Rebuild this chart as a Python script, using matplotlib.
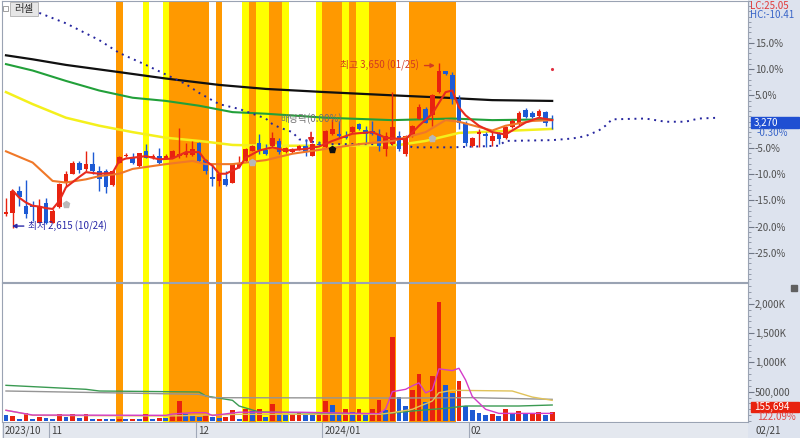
import matplotlib
matplotlib.use('Agg')
import matplotlib.pyplot as plt
from matplotlib.patches import Rectangle
import numpy as np

plt.rcParams['font.family'] = ['Noto Sans CJK KR', 'DejaVu Sans']

# ---- daily candles, 2023/10/23 .. 2024/02/21 ----
opens = [2705, 2710, 2850, 2755, 2760, 2650, 2775, 2650, 2745, 2900,
         2955, 3020, 2985, 3015, 2970, 2975, 2885, 3025, 3065, 3055,
         3005, 3095, 3055, 3065, 3050, 3055, 3065, 3075, 3075, 3150,
         3040, 2935, 2910, 2925, 2900, 3000, 3035, 3100, 3150, 3105,
         3130, 3160, 3090, 3090, 3110, 3130, 3065, 3140, 3125, 3205,
         3205, 3190, 3215, 3265, 3230, 3225, 3205, 3110, 3140, 3190,
         3080, 3190, 3295, 3360, 3320, 3465, 3595, 3570, 3420, 3275,
         3130, 3205, 3205, 3160, 3205, 3180, 3245, 3265, 3355, 3335,
         3315, 3340, 3275]
closes = [2715, 2850, 2810, 2705, 2750, 2755, 2650, 2720, 2890, 2955,
          3025, 2980, 3015, 2975, 2920, 2870, 2975, 3060, 3075, 3025,
          3085, 3055, 3065, 3025, 3065, 3100, 3080, 3090, 3110, 3035,
          2975, 2925, 2955, 2885, 3015, 3025, 3110, 3130, 3105, 3080,
          3180, 3090, 3115, 3110, 3130, 3090, 3140, 3135, 3225, 3235,
          3190, 3180, 3245, 3235, 3205, 3205, 3130, 3190, 3245, 3110,
          3190, 3255, 3370, 3275, 3445, 3600, 3580, 3425, 3275, 3150,
          3180, 3215, 3190, 3190, 3175, 3250, 3285, 3335, 3310, 3310,
          3350, 3275, 3270]
highs = [2805, 2850, 2880, 2915, 2785, 2800, 2805, 2735, 2900, 2975,
         3035, 3035, 3100, 3090, 3005, 2985, 2980, 3065, 3085, 3085,
         3085, 3140, 3080, 3115, 3080, 3105, 3240, 3150, 3160, 3155,
         3050, 3015, 2960, 2975, 3025, 3065, 3115, 3135, 3205, 3140,
         3215, 3180, 3125, 3115, 3135, 3170, 3150, 3160, 3230, 3300,
         3285, 3225, 3255, 3275, 3255, 3285, 3235, 3215, 3465, 3225,
         3200, 3260, 3390, 3370, 3455, 3650, 3600, 3590, 3445, 3285,
         3185, 3235, 3215, 3215, 3215, 3255, 3295, 3345, 3365, 3345,
         3360, 3350, 3320]
lows = [2690, 2615, 2755, 2680, 2660, 2650, 2640, 2650, 2740, 2880,
        2955, 2960, 2975, 2955, 2850, 2835, 2880, 3025, 3060, 3015,
        3000, 3055, 3050, 3015, 3050, 3055, 3055, 3060, 3065, 3030,
        2955, 2880, 2880, 2880, 2900, 2990, 3030, 3100, 3080, 3075,
        3125, 3080, 3085, 3085, 3105, 3065, 3065, 3130, 3115, 3200,
        3180, 3175, 3210, 3230, 3150, 3200, 3100, 3065, 3135, 3100,
        3065, 3185, 3295, 3270, 3255, 3460, 3575, 3390, 3235, 3130,
        3120, 3120, 3120, 3130, 3140, 3175, 3240, 3260, 3305, 3305,
        3310, 3255, 3235]
# volume in thousands, and its bar colour (1 red, 0 blue)
volumes_k = [97, 85, 40, 142, 40, 68, 57, 40, 114, 68,
             114, 57, 125, 28, 40, 40, 34, 40, 40, 40,
             40, 114, 34, 57, 45, 103, 341, 125, 97, 68,
             97, 68, 45, 68, 188, 40, 199, 171, 199, 68,
             296, 125, 114, 125, 159, 114, 114, 102, 341, 273,
             125, 210, 159, 199, 142, 199, 358, 182, 1433, 409,
             256, 523, 796, 324, 768, 2030, 614, 483, 682, 256,
             182, 142, 97, 125, 85, 199, 125, 171, 114, 142,
             148, 102, 156]
vol_red = [0, 1, 0, 1, 0, 1, 0, 0, 1, 0,
           1, 0, 1, 0, 1, 0, 0, 1, 0, 1,
           0, 1, 0, 1, 0, 1, 1, 0, 0, 0,
           1, 0, 0, 1, 1, 0, 1, 0, 1, 0,
           1, 0, 0, 1, 1, 0, 0, 1, 1, 0,
           0, 1, 0, 1, 0, 1, 1, 0, 1, 0,
           0, 1, 1, 0, 1, 1, 0, 0, 1, 0,
           0, 0, 0, 1, 0, 1, 0, 1, 0, 1,
           1, 0, 1]

prev_close = 3280
pct_ticks = [15, 10, 5, -5, -10, -15, -20, -25]
month_starts = [0, 7, 29, 48, 70]
month_labels = ['2023/10', '11', '12', '2024/01', '02']

# highlighted days (background bands)
orange_days = [17, 25, 26, 27, 28, 29, 30, 32, 37, 40, 41, 48, 49, 50, 52,
               55, 56, 57, 58, 61, 62, 63, 64, 65, 66, 67]
yellow_days = [21, 24, 36, 38, 39, 42, 47, 51, 53, 54]

# moving averages (day index, price)
ma_black_i = [0, 4, 9, 17, 24, 32, 39, 48, 58, 66, 73, 82]
ma_black = [3695, 3670, 3635, 3590, 3550, 3510, 3485, 3465, 3445, 3430, 3415, 3410]
ma_green_i = [0, 4, 9, 14, 19, 24, 29, 34, 39, 48, 58, 67, 73, 82]
ma_green = [3640, 3600, 3535, 3475, 3430, 3410, 3380, 3340, 3330, 3305, 3290, 3300, 3290, 3295]
ma_yellow_i = [0, 4, 9, 14, 19, 24, 29, 34, 39, 49, 59, 63, 68, 82]
ma_yellow = [3465, 3390, 3305, 3255, 3215, 3180, 3160, 3135, 3130, 3130, 3135, 3160, 3210, 3235]
ma_orange_i = [0, 4, 7, 9, 12, 14, 17, 19, 24, 28, 30, 34, 39, 43, 48, 53, 58, 63,
               66, 68, 73, 75, 79, 82]
ma_orange = [3095, 3025, 2910, 2900, 2920, 2940, 2955, 2985, 3015, 3035, 3015, 3015,
             3040, 3080, 3110, 3140, 3160, 3215, 3290, 3280, 3225, 3255, 3285, 3290]
ma_red_i = [1, 2, 3, 4, 5, 6, 7, 8, 9, 11, 12, 14, 16, 17, 18, 19, 21, 23, 25, 27,
            29, 30, 31, 32, 33, 35, 36, 38, 40, 42, 45, 47, 49, 52, 55, 57, 60, 62, 64, 66,
            67, 68, 69, 71, 73, 75, 76, 78, 80, 82]
ma_red = [2850, 2805, 2775, 2755, 2750, 2740, 2735, 2785, 2870, 2935,
          2965, 2955, 2960, 3035, 3050, 3055, 3065, 3045, 3050, 3090,
          3090, 3035, 3005, 2955, 2955, 2995, 3055, 3100, 3120, 3100,
          3110, 3125, 3160, 3205, 3215, 3180, 3170, 3255, 3330, 3465,
          3475, 3370, 3320, 3255, 3215, 3200, 3225, 3275, 3305, 3290]
# leading span (dotted), shifted ahead of the last day
span_i = [5, 9, 14, 17, 21, 24, 27, 29, 32, 35, 39, 40, 41, 43, 44, 46, 48, 60, 61, 67,
          74, 75, 82, 85, 87, 89, 90, 91, 96, 99, 102, 104, 107]
span = [3960, 3895, 3790, 3710, 3635, 3575, 3515, 3460, 3390, 3360,
        3300, 3265, 3245, 3215, 3170, 3155, 3140, 3140, 3120, 3120,
        3130, 3160, 3165, 3175, 3190, 3225, 3255, 3295, 3300, 3280,
        3280, 3300, 3305]

# volume averages (day index, thousands)
vma_green_i = [0, 12, 14, 29, 30, 34, 35, 38, 56, 61, 66, 69, 77, 82]
vma_green = [609, 541, 512, 495, 427, 353, 256, 154, 114, 171, 217, 256, 256, 273]
vma_gray_i = [0, 29, 30, 31, 59, 70, 82]
vma_gray = [512, 455, 427, 398, 392, 398, 370]
vma_gold_i = [0, 4, 24, 35, 56, 58, 61, 64, 65, 67, 76, 79, 82]
vma_gold = [183, 97, 85, 114, 114, 142, 200, 341, 483, 524, 512, 409, 353]
vma_pink_i = [0, 4, 24, 25, 28, 30, 31, 35, 44, 56, 57, 58, 60, 61, 62, 63, 64, 65,
              67, 68, 69, 70, 72, 74, 82]
vma_pink = [183, 102, 97, 119, 142, 142, 94, 150, 150, 125, 205, 500, 541, 600, 650,
            480, 530, 890, 860, 900, 700, 420, 200, 130, 130]

RED = '#e8220f'
BLUE = '#1d5ad4'
ORANGE = '#ff9900'
YELLOW = '#ffff00'
NAVY = '#25259e'
GRID = '#9aa3b3'

W, H = 800, 438


def box(x0, y0, x1, y1):
    return [x0 / W, 1 - y1 / H, (x1 - x0) / W, (y1 - y0) / H]


def fx(x):
    return x / W


def fy(y):
    return 1 - y / H


fig = plt.figure(figsize=(8, 4.38), dpi=100)

side = fig.add_axes(box(748, 0, 800, 438))
side.set_facecolor('#dde3ee')
side.set_xticks([])
side.set_yticks([])
for s in side.spines.values():
    s.set_visible(False)

ax = fig.add_axes(box(2, 1, 748, 282))
axv = fig.add_axes(box(2, 283, 748, 422), sharex=ax)
axd = fig.add_axes(box(2, 423, 748, 438), sharex=ax)

x = np.arange(len(closes))
o = np.array(opens)
c = np.array(closes)
up = c >= o
ccol = np.where(up, RED, BLUE)

for a in (ax, axv):
    for d in orange_days:
        a.axvspan(d - 0.5, d + 0.5, color=ORANGE, lw=0, zorder=0)
    for d in yellow_days:
        a.axvspan(d - 0.5, d + 0.5, color=YELLOW, lw=0, zorder=0)

# moving averages
ax.plot(ma_black_i, ma_black, color='#101010', lw=1.6, zorder=2)
ax.plot(ma_green_i, ma_green, color='#22a03a', lw=1.5, zorder=2)
ax.plot(ma_yellow_i, ma_yellow, color='#f4f01c', lw=1.8, zorder=2)
ax.plot(span_i, span, color=NAVY, lw=1.4, ls=(0, (1, 2.4)), dash_capstyle='butt', zorder=2)

# candles
ax.vlines(x, lows, highs, colors=ccol, lw=1, zorder=3)
ax.bar(x, np.maximum(np.abs(c - o), 5), bottom=np.minimum(o, c), width=0.7,
       color=ccol, lw=0, zorder=3)

ax.plot(ma_orange_i, ma_orange, color='#f07828', lw=1.5, zorder=4)
ax.plot(ma_red_i, ma_red, color='#e82a1e', lw=1.5, zorder=4)

# markers
ax.plot([9, 37, 64], [2767, 3030, 3180], 'p', color='#b8b8b8', ms=5, zorder=5)
ax.plot([49], [3111], 'p', color='#111111', ms=5, zorder=5)
ax.plot([82], [3612], '.', color='#e03040', ms=2.5, zorder=5)

ax.annotate('최저 2,615 (10/24)', xy=(0.9, 2628), xytext=(3.3, 2628),
            color='#2a2aa8', fontsize=7, va='center', ha='left', zorder=6,
            arrowprops=dict(arrowstyle='-|>', color='#2a2aa8', lw=1, mutation_scale=6,
                            shrinkA=1, shrinkB=0))
ax.annotate('최고 3,650 (01/25)', xy=(64.4, 3631), xytext=(62.0, 3631),
            color='#d23a22', fontsize=7, va='center', ha='right', zorder=6,
            arrowprops=dict(arrowstyle='-|>', color='#d23a22', lw=1, mutation_scale=6,
                            shrinkA=2, shrinkB=0))
ax.text(41.1, 3299, '배당락(0.00%)', color='#707070', fontsize=7, va='center',
        ha='left', zorder=6)
ax.annotate('', xy=(45.8, 3140), xytext=(45.8, 3213), zorder=6,
            arrowprops=dict(arrowstyle='-|>', color='#e02020', lw=1.2, mutation_scale=8,
                            shrinkA=0, shrinkB=0))

ymin = prev_close * (1 - 160 / 524)
ymax = prev_close * (1 + 120 / 524)
ax.set_ylim(ymin, ymax)
ax.set_xlim(-0.6, 111.4)
ax.yaxis.tick_right()
ax.set_yticks([prev_close * (1 + p / 100) for p in pct_ticks])
ax.set_yticklabels([f'{p:.1f}%' for p in pct_ticks])
ax.set_yticks([prev_close * (1 + p / 100) for p in range(-30, 24)], minor=True)
ax.tick_params(axis='y', which='major', length=4, width=0.8, pad=1, labelsize=7,
               color='#707888', labelcolor='#505050')
ax.tick_params(axis='y', which='minor', length=2, width=0.6, color='#8890a0')
ax.tick_params(axis='x', bottom=False, labelbottom=False)

# volume panel
vol = np.array(volumes_k) * 1000
vcol = np.where(np.array(vol_red) == 1, RED, BLUE)
axv.bar(x, vol, width=0.72, color=vcol, lw=0, zorder=2)
axv.plot(vma_green_i, np.array(vma_green) * 1000, color='#3a9a52', lw=1, zorder=3)
axv.plot(vma_gray_i, np.array(vma_gray) * 1000, color='#959595', lw=1, zorder=3)
axv.plot(vma_gold_i, np.array(vma_gold) * 1000, color='#e0c25a', lw=1, zorder=3)
axv.plot(vma_pink_i, np.array(vma_pink) * 1000, color='#d43cc8', lw=1, zorder=3)
axv.set_ylim(-17000, 2355000)
axv.yaxis.tick_right()
axv.set_yticks([500000, 1000000, 1500000, 2000000])
axv.set_yticklabels(['500,000', '1,000K', '1,500K', '2,000K'])
axv.set_yticks(np.arange(0, 2300001, 100000), minor=True)
axv.tick_params(axis='y', which='major', length=4, width=0.8, pad=1, labelsize=7,
                color='#707888', labelcolor='#505050')
axv.tick_params(axis='y', which='minor', length=2, width=0.6, color='#8890a0')
axv.tick_params(axis='x', bottom=False, labelbottom=False)

for a in (ax, axv):
    for s in a.spines.values():
        s.set_color(GRID)
        s.set_linewidth(0.8)

# date strip
axd.set_facecolor('#e4e8ef')
axd.set_ylim(0, 1)
axd.set_yticks([])
axd.tick_params(axis='x', bottom=False, labelbottom=False)
for s in axd.spines.values():
    s.set_visible(False)
for d, lab in zip(month_starts, month_labels):
    axd.axvline(d - 0.5, color='#a0a8b8', lw=0.8)
    axd.text(d - 0.5 + 0.3, 0.45, lab, fontsize=7, color='#404040', va='center',
             ha='left')

# side panel texts
fig.text(fx(750), fy(6), 'LC:25.05', color='#e03a3a', fontsize=7, va='center')
fig.text(fx(750), fy(15.5), 'HC:-10.41', color='#3a66c8', fontsize=7, va='center')
fig.add_artist(Rectangle((fx(751), fy(128)), fx(48), 11 / H, color='#1f4fd2',
                         transform=fig.transFigure))
fig.text(fx(754), fy(122.5), '3,270', color='white', fontsize=7, va='center')
fig.text(fx(757), fy(133), '-0.30%', color='#3a66c8', fontsize=7, va='center')
fig.add_artist(Rectangle((fx(751), fy(412)), fx(48), 10 / H, color='#e8220f',
                         transform=fig.transFigure))
fig.text(fx(754), fy(407), '155,694', color='white', fontsize=7, va='center')
fig.text(fx(757), fy(416.5), '122.09%', color='#e04848', fontsize=7, va='center')
fig.text(fx(755), fy(430.5), '02/21', color='#404040', fontsize=7, va='center')

# small header widgets
fig.add_artist(Rectangle((fx(3), fy(11)), fx(5), 5 / H, facecolor='white',
                         edgecolor='#909090', lw=0.6, transform=fig.transFigure))
fig.add_artist(Rectangle((fx(10), fy(16)), fx(28), 14 / H, facecolor='#e6e6e6',
                         edgecolor='#b0b0b0', lw=0.6, transform=fig.transFigure))
fig.text(fx(24), fy(9), '러셀', color='#303030', fontsize=7.5, va='center', ha='center')
fig.add_artist(Rectangle((fx(791), fy(291)), fx(6), 6 / H, facecolor='#606060',
                         edgecolor='#606060', transform=fig.transFigure))

fig.savefig('out.png', dpi=100)
